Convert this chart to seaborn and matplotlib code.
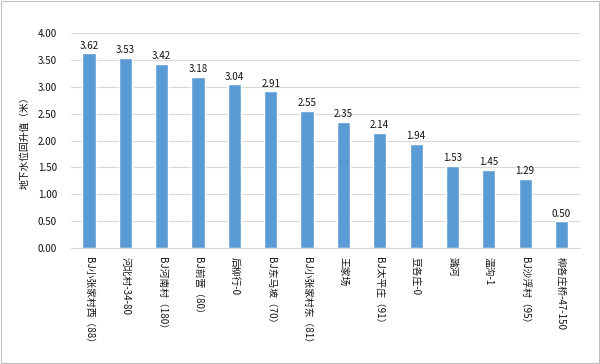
import matplotlib
matplotlib.use("Agg")
import matplotlib.pyplot as plt
import seaborn as sns
import pandas as pd

stations = ["BJ小张家村西（88）", "河北村-34-80", "BJ河南村（180）", "BJ前营（80）",
            "后柳行-0", "BJ东马坡（70）", "BJ小张家村东（81）", "王家场",
            "BJ太平庄（91）", "豆各庄-0", "潞河", "温沟-1", "BJ沙浮村（95）",
            "柳各庄桥-47-150"]
rise = [3.62, 3.53, 3.42, 3.18, 3.04, 2.91, 2.55, 2.35, 2.14, 1.94, 1.53, 1.45, 1.29, 0.50]
yticks = [0, 0.5, 1.0, 1.5, 2.0, 2.5, 3.0, 3.5, 4.0]

df = pd.DataFrame({"station": stations, "rise": rise})

sns.set_style("white")
plt.rcParams['font.family'] = ['Noto Sans CJK SC', 'DejaVu Sans']

fig = plt.figure(figsize=(6, 3.64), dpi=100)
ax = fig.add_axes([0.118, 0.318, 0.848, 0.592])

sns.barplot(data=df, x="station", y="rise", color="#5B9BD5", width=0.36,
            saturation=1, ax=ax)

# value labels above bars
for i, v in enumerate(rise):
    ax.text(i, v + 0.05, f"{v:.2f}", ha="center", va="bottom", fontsize=7, color="#111111")

ax.set_ylim(0, 4.0)
ax.set_yticks(yticks)
ax.set_yticklabels([f"{t:.2f}" for t in yticks], fontsize=7, color="#111111")
ax.yaxis.grid(True, color="#D9D9D9", linewidth=0.8)
ax.set_axisbelow(True)
ax.tick_params(axis="y", length=0, pad=10)
ax.tick_params(axis="x", length=0, pad=6)
ax.set_xticks(range(len(stations)))
ax.set_xticklabels(stations, rotation=-90, fontsize=7, color="#111111", va="top", ha="center")
ax.set_xlabel("")
ax.set_ylabel("地下水位回升值（米）", fontsize=7, color="#111111", labelpad=6)
for s in ["top", "right", "left"]:
    ax.spines[s].set_visible(False)
ax.spines["bottom"].set_color("#D9D9D9")

# thin frame around the whole picture
fig.patches.append(plt.Rectangle((0.002, 0.003), 0.996, 0.994, transform=fig.transFigure,
                                 fill=False, edgecolor="#BFBFBF", linewidth=0.8))

fig.savefig("out.png", dpi=100, facecolor="white")
